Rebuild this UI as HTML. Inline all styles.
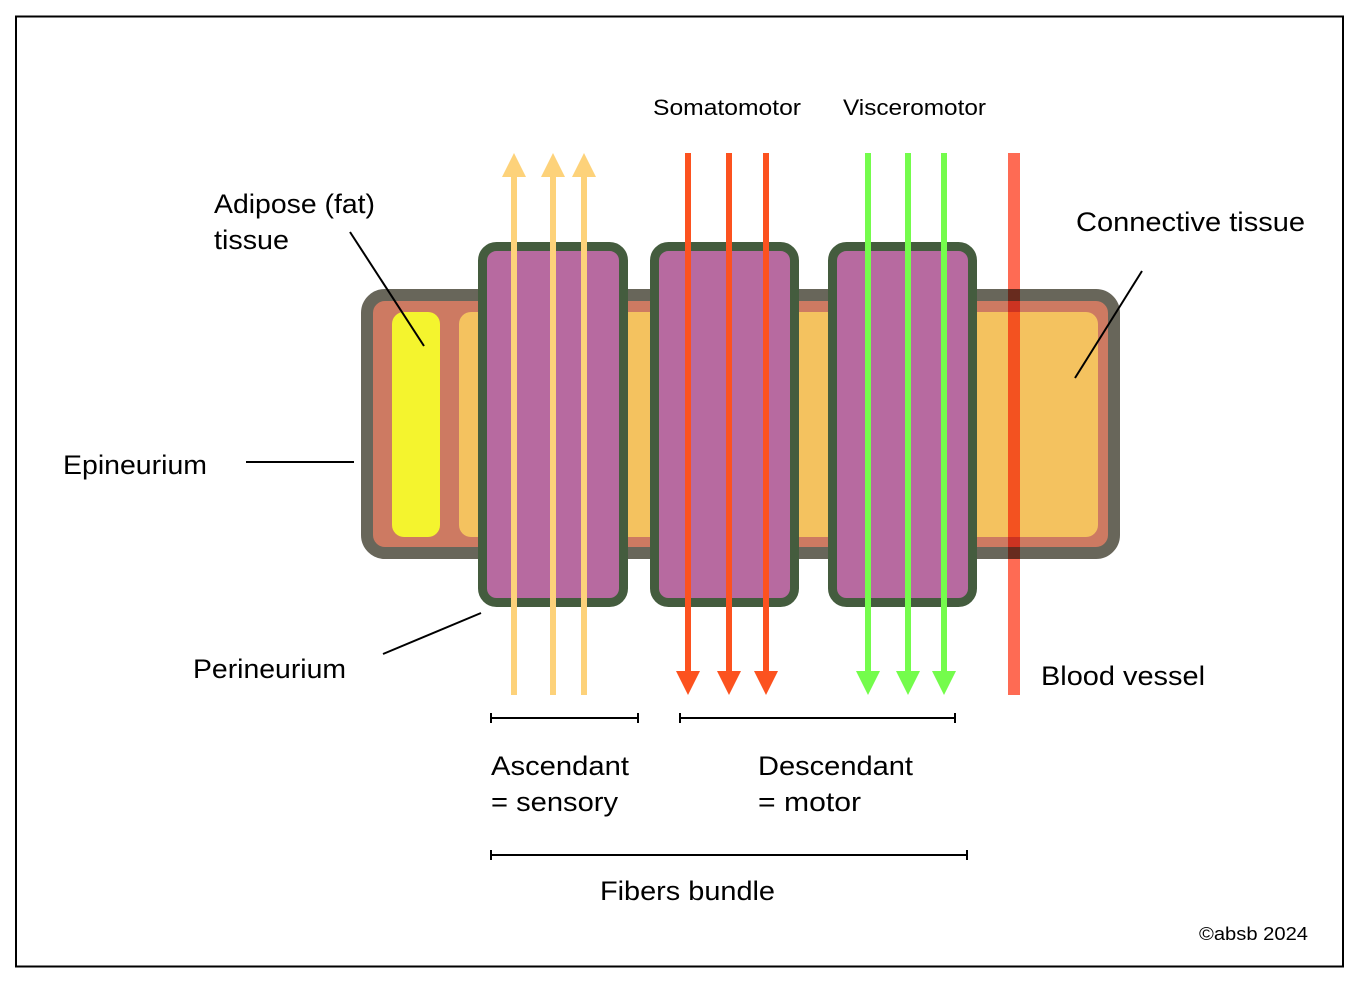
<!DOCTYPE html>
<html><head><style>html,body{margin:0;padding:0;background:#fff}svg{display:block}text{font-family:"Liberation Sans",sans-serif;fill:#000}</style></head>
<body>
<svg width="1358" height="984" viewBox="0 0 1358 984" xmlns="http://www.w3.org/2000/svg">
<rect x="16" y="16.5" width="1327" height="950" fill="#fff" stroke="#000" stroke-width="2"/>
<rect x="367" y="295" width="747" height="258" rx="18" fill="#cd7a62" stroke="#68665a" stroke-width="12"/>
<rect x="459" y="312" width="639" height="225" rx="12" fill="#f4c25f"/>
<rect x="392" y="312" width="48" height="225" rx="12" fill="#f4f42e"/>
<g fill="#b76aa0" stroke="#445c3e" stroke-width="9">
<rect x="482.5" y="246.5" width="141" height="356" rx="14"/>
<rect x="654.5" y="246.5" width="140" height="356" rx="14"/>
<rect x="832.5" y="246.5" width="140" height="356" rx="14"/>
</g>
<g stroke="#fdd27a" stroke-width="6">
<line x1="514" y1="695" x2="514" y2="170"/><line x1="553" y1="695" x2="553" y2="170"/><line x1="584" y1="695" x2="584" y2="170"/>
</g>
<g fill="#fdd27a">
<polygon points="514,153 502,177 526,177"/><polygon points="553,153 541,177 565,177"/><polygon points="584,153 572,177 596,177"/>
</g>
<g stroke="#fc521f" stroke-width="6">
<line x1="688" y1="153" x2="688" y2="678"/><line x1="729" y1="153" x2="729" y2="678"/><line x1="766" y1="153" x2="766" y2="678"/>
</g>
<g fill="#fc521f">
<polygon points="688,695 676,671 700,671"/><polygon points="729,695 717,671 741,671"/><polygon points="766,695 754,671 778,671"/>
</g>
<g stroke="#74fc4c" stroke-width="6">
<line x1="868" y1="153" x2="868" y2="678"/><line x1="908" y1="153" x2="908" y2="678"/><line x1="944" y1="153" x2="944" y2="678"/>
</g>
<g fill="#74fc4c">
<polygon points="868,695 856,671 880,671"/><polygon points="908,695 896,671 920,671"/><polygon points="944,695 932,671 956,671"/>
</g>
<rect x="1008" y="153" width="12" height="542" fill="#fe6b54" style="mix-blend-mode:multiply"/>
<g stroke="#000" stroke-width="2" fill="none">
<line x1="350" y1="232" x2="424" y2="346"/>
<line x1="246" y1="462" x2="354" y2="462"/>
<line x1="383" y1="654" x2="481" y2="613"/>
<line x1="1142" y1="271" x2="1075" y2="378"/>
<path d="M491 718H638M491 713V723M638 713V723"/>
<path d="M680 718H955M680 713V723M955 713V723"/>
<path d="M491 855H967M491 850V860M967 850V860"/>
</g>
<g font-size="27" lengthAdjust="spacingAndGlyphs">
<text x="214" y="213" textLength="161" lengthAdjust="spacingAndGlyphs">Adipose (fat)</text>
<text x="214" y="249" textLength="75" lengthAdjust="spacingAndGlyphs">tissue</text>
<text x="63" y="474" textLength="144" lengthAdjust="spacingAndGlyphs">Epineurium</text>
<text x="193" y="678" textLength="153" lengthAdjust="spacingAndGlyphs">Perineurium</text>
<text x="1076" y="231" textLength="229" lengthAdjust="spacingAndGlyphs">Connective tissue</text>
<text x="1041" y="685" textLength="164" lengthAdjust="spacingAndGlyphs">Blood vessel</text>
<text x="491" y="775" textLength="138" lengthAdjust="spacingAndGlyphs">Ascendant</text>
<text x="491" y="811" textLength="127" lengthAdjust="spacingAndGlyphs">= sensory</text>
<text x="758" y="775" textLength="155" lengthAdjust="spacingAndGlyphs">Descendant</text>
<text x="758" y="811" textLength="103" lengthAdjust="spacingAndGlyphs">= motor</text>
<text x="600" y="900" textLength="175" lengthAdjust="spacingAndGlyphs">Fibers bundle</text>
</g>
<text x="653" y="115" font-size="22" textLength="148" lengthAdjust="spacingAndGlyphs">Somatomotor</text>
<text x="843" y="115" font-size="22" textLength="143" lengthAdjust="spacingAndGlyphs">Visceromotor</text>
<text x="1199" y="940" font-size="18" textLength="109" lengthAdjust="spacingAndGlyphs">©absb 2024</text>
</svg>
</body></html>
